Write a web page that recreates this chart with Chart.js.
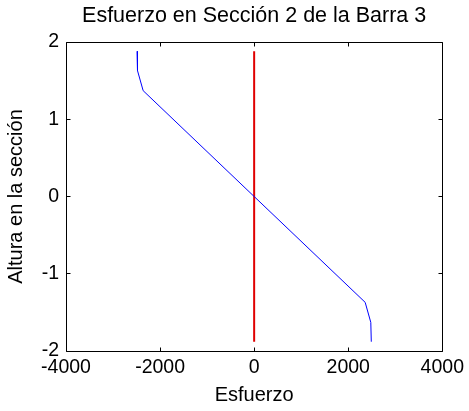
<!DOCTYPE html>
<html>
<head>
<meta charset="utf-8">
<script src="https://cdn.jsdelivr.net/npm/chart.js@4"></script>
<style>
  html, body { margin: 0; padding: 0; background: #fff; }
  #wrap { width: 469px; height: 411px; }
</style>
</head>
<body>
<div id="wrap"><canvas id="c" width="469" height="411"></canvas></div>
<script>
// Stress distribution across the section height
const stressValues = [-2490, -2480, -2360, 0, 2360, 2480, 2490];
const heightValues = [1.88, 1.63, 1.37, 0, -1.37, -1.63, -1.88];

// Neutral reference line at zero stress
const refStress = [0, 0];
const refHeight = [1.88, -1.88];

const xTicks = [-4000, -2000, 0, 2000, 4000];
const yTicks = [-2, -1, 0, 1, 2];

const titleText = 'Esfuerzo en Sección 2 de la Barra 3';
const xLabel = 'Esfuerzo';
const yLabel = 'Altura en la sección';

const FONT = 'Liberation Sans, Arial, Helvetica, sans-serif';

const toPoints = (xs, ys) => xs.map((x, i) => ({ x: x, y: ys[i] }));

// Box frame plus inward tick marks on all four sides, and a title centred over the axes
const framePlugin = {
  id: 'frame',
  afterDatasetsDraw(chart) {
    const { ctx, chartArea: a, scales: { x, y } } = chart;
    const L = Math.floor(a.left) + 0.5, R = Math.floor(a.right) + 0.5;
    const T = Math.floor(a.top) + 0.5, B = Math.floor(a.bottom) + 0.5;
    const len = 4;
    ctx.save();
    ctx.strokeStyle = '#000';
    ctx.lineWidth = 1;
    ctx.beginPath();
    ctx.rect(L, T, R - L, B - T);
    xTicks.forEach(v => {
      const px = Math.floor(x.getPixelForValue(v)) + 0.5;
      ctx.moveTo(px, B); ctx.lineTo(px, B - len);
      ctx.moveTo(px, T); ctx.lineTo(px, T + len);
    });
    yTicks.forEach(v => {
      const py = Math.floor(y.getPixelForValue(v)) + 0.5;
      ctx.moveTo(L, py); ctx.lineTo(L + len, py);
      ctx.moveTo(R, py); ctx.lineTo(R - len, py);
    });
    ctx.stroke();

    ctx.fillStyle = '#000';
    ctx.font = '21.5px ' + FONT;
    ctx.textAlign = 'center';
    ctx.textBaseline = 'middle';
    ctx.fillText(titleText, (a.left + a.right) / 2, 16);
    ctx.restore();
  }
};

new Chart(document.getElementById('c'), {
  type: 'scatter',
  data: {
    datasets: [
      {
        data: toPoints(stressValues, heightValues),
        showLine: true,
        borderColor: '#0000ff',
        borderWidth: 1,
        pointRadius: 0,
        tension: 0
      },
      {
        data: toPoints(refStress, refHeight),
        showLine: true,
        borderColor: '#e00000',
        borderWidth: 2,
        pointRadius: 0,
        tension: 0
      }
    ]
  },
  options: {
    responsive: false,
    animation: false,
    devicePixelRatio: 1,
    layout: { padding: { left: 0, right: 25, top: 42, bottom: 0 } },
    plugins: {
      legend: { display: false },
      tooltip: { enabled: false },
      title: { display: false }
    },
    scales: {
      x: {
        type: 'linear',
        min: -4000,
        max: 4000,
        afterBuildTicks: s => { s.ticks = xTicks.map(v => ({ value: v })); },
        afterFit: s => { s.height = 60; },
        grid: { display: false, drawTicks: false },
        border: { display: false },
        ticks: {
          color: '#000',
          padding: 5,
          maxRotation: 0,
          autoSkip: false,
          font: { family: FONT, size: 19.5, lineHeight: 1.2 },
          callback: v => String(v)
        },
        title: {
          display: true,
          text: xLabel,
          color: '#000',
          font: { family: FONT, size: 20, lineHeight: 1.2 },
          padding: { top: 0, bottom: 4 }
        }
      },
      y: {
        type: 'linear',
        min: -2,
        max: 2,
        afterBuildTicks: s => { s.ticks = yTicks.map(v => ({ value: v })); },
        afterFit: s => { s.width = 66; },
        grid: { display: false, drawTicks: false },
        border: { display: false },
        ticks: {
          color: '#000',
          padding: 7,
          autoSkip: false,
          font: { family: FONT, size: 19.5, lineHeight: 1.2 },
          callback: v => String(v)
        },
        title: {
          display: true,
          text: yLabel,
          color: '#000',
          font: { family: FONT, size: 20, lineHeight: 1.2 },
          padding: { top: 4, bottom: 0 }
        }
      }
    }
  },
  plugins: [framePlugin]
});
</script>
</body>
</html>
